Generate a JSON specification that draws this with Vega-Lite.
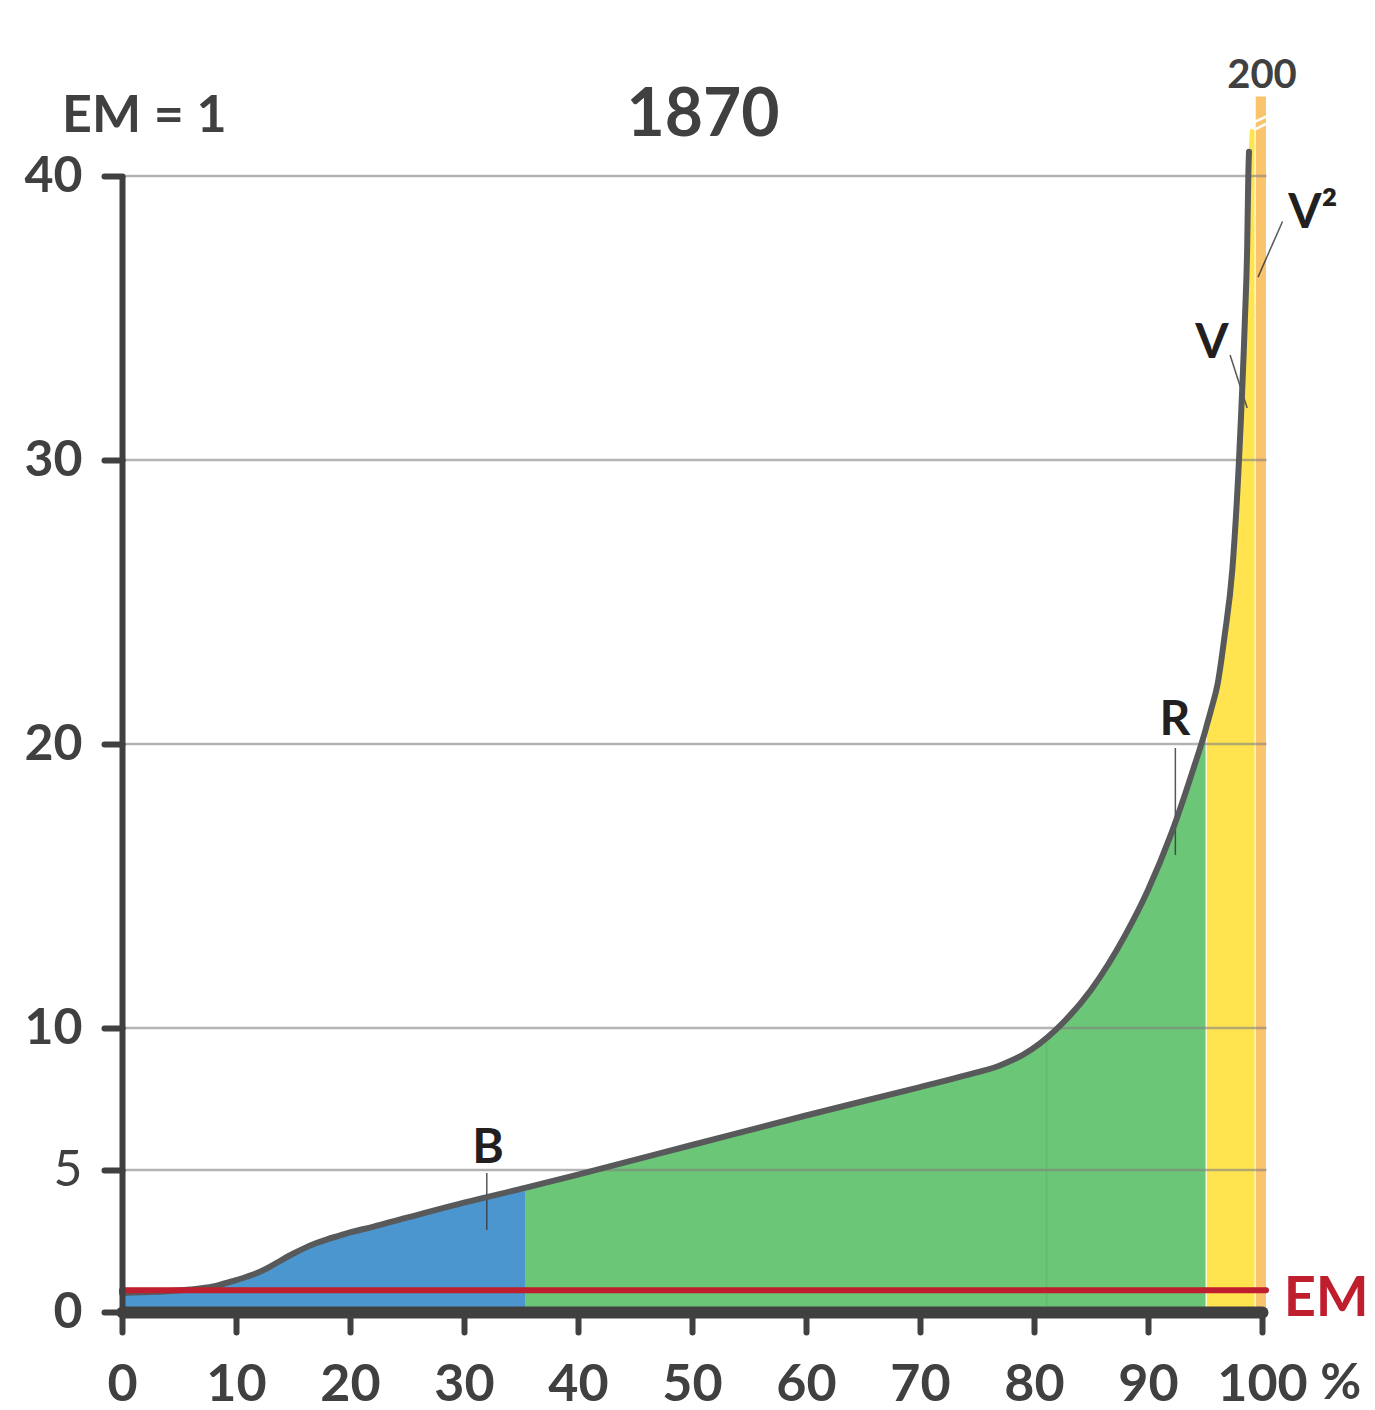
{
  "$schema": "https://vega.github.io/schema/vega-lite/v6.json",
  "width": 1140,
  "height": 1136,
  "autosize": {"type": "none"},
  "padding": {"left": 122, "top": 176, "right": 113, "bottom": 98},
  "background": "white",
  "config": {"view": {"stroke": null}, "font": "Lato"},
  "datasets": {
    "curve": [
      {"x": 0, "y": 0.67, "kind": "curve"},
      {"x": 3, "y": 0.71, "kind": "curve"},
      {"x": 6, "y": 0.79, "kind": "curve"},
      {"x": 8, "y": 0.9, "kind": "curve"},
      {"x": 9.7, "y": 1.09, "kind": "curve"},
      {"x": 11, "y": 1.25, "kind": "curve"},
      {"x": 12, "y": 1.4, "kind": "curve"},
      {"x": 13, "y": 1.6, "kind": "curve"},
      {"x": 14, "y": 1.83, "kind": "curve"},
      {"x": 15, "y": 2.05, "kind": "curve"},
      {"x": 16, "y": 2.25, "kind": "curve"},
      {"x": 17, "y": 2.42, "kind": "curve"},
      {"x": 18, "y": 2.56, "kind": "curve"},
      {"x": 19, "y": 2.68, "kind": "curve"},
      {"x": 20, "y": 2.8, "kind": "curve"},
      {"x": 22, "y": 3.0, "kind": "curve"},
      {"x": 25, "y": 3.32, "kind": "curve"},
      {"x": 30, "y": 3.85, "kind": "curve"},
      {"x": 35.35, "y": 4.37, "kind": "curve"},
      {"x": 40, "y": 4.84, "kind": "curve"},
      {"x": 50, "y": 5.88, "kind": "curve"},
      {"x": 60, "y": 6.92, "kind": "curve"},
      {"x": 70, "y": 7.92, "kind": "curve"},
      {"x": 74, "y": 8.33, "kind": "curve"},
      {"x": 77, "y": 8.68, "kind": "curve"},
      {"x": 79, "y": 9.05, "kind": "curve"},
      {"x": 80.5, "y": 9.45, "kind": "curve"},
      {"x": 82, "y": 9.97, "kind": "curve"},
      {"x": 85, "y": 11.34, "kind": "curve"},
      {"x": 88, "y": 13.27, "kind": "curve"},
      {"x": 90, "y": 14.86, "kind": "curve"},
      {"x": 92, "y": 16.8, "kind": "curve"},
      {"x": 94, "y": 19.15, "kind": "curve"},
      {"x": 95.05, "y": 20.5, "kind": "curve"},
      {"x": 95.15, "y": 20.65, "kind": "curve"},
      {"x": 95.6, "y": 21.3, "kind": "curve"},
      {"x": 96.1, "y": 22.1, "kind": "curve"},
      {"x": 96.7, "y": 23.75, "kind": "curve"},
      {"x": 97.4, "y": 26.15, "kind": "curve"},
      {"x": 98.0, "y": 30.15, "kind": "curve"},
      {"x": 98.5, "y": 34.95, "kind": "curve"},
      {"x": 98.7, "y": 37.5, "kind": "curve"},
      {"x": 98.8, "y": 40.05, "kind": "curve"},
      {"x": 98.86, "y": 40.85, "kind": "curve"},
      {"x": 98.95, "y": 41.65, "kind": "top"},
      {"x": 99.35, "y": 41.65, "kind": "top"}
    ],
    "grid": [{"y": 5}, {"y": 10}, {"y": 20}, {"y": 30}, {"y": 40}],
    "leaders": [
      {"name": "B", "x": 32.0, "y": 4.89, "x2": 32.0, "y2": 2.89},
      {"name": "R", "x": 92.4, "y": 19.86, "x2": 92.4, "y2": 16.09},
      {"name": "V", "x": 97.2, "y": 33.7, "x2": 98.7, "y2": 31.83},
      {"name": "V2", "x": 101.8, "y": 38.4, "x2": 99.65, "y2": 36.44}
    ],
    "letters": [
      {"text": "B", "x": 32.1, "y": 5.25},
      {"text": "R", "x": 92.37, "y": 20.3},
      {"text": "V", "x": 95.6, "y": 33.6}
    ]
  },
  "layer": [
    {
      "data": {"name": "curve"},
      "transform": [{"filter": "datum.kind == 'curve' && datum.x <= 35.35"}],
      "mark": {"type": "area", "color": "#4b96ce", "interpolate": "monotone"},
      "encoding": {
        "x": {
          "field": "x", "type": "quantitative", "title": null,
          "scale": {"domain": [0, 100], "nice": false, "zero": false},
          "axis": {
            "values": [0, 10, 20, 30, 40, 50, 60, 70, 80, 90, 100],
            "title": null, "grid": false,
            "domainColor": "#404040", "domainWidth": 12, "domainCap": "round",
            "tickColor": "#404040", "tickWidth": 6, "tickSize": 20, "tickCap": "round",
            "labelFont": "Lato", "labelFontSize": 52, "labelFontWeight": "bold",
            "labelColor": "#404040", "labelPadding": 27,
            "labelFlush": false, "labelOverlap": false, "zindex": 1
          }
        },
        "y": {
          "field": "y", "type": "quantitative", "title": null,
          "scale": {"domain": [0, 40], "nice": false, "zero": false},
          "axis": {
            "values": [0, 5, 10, 20, 30, 40],
            "title": null, "grid": false,
            "domainColor": "#404040", "domainWidth": 6,
            "tickColor": "#404040", "tickWidth": 6, "tickSize": 18, "tickCap": "round",
            "labelFont": "Lato", "labelFontSize": 50,
            "labelFontWeight": {"condition": {"test": "datum.value == 5", "value": "normal"}, "value": "bold"},
            "labelColor": "#404040", "labelPadding": 22,
            "labelFlush": false, "labelOverlap": false, "zindex": 1
          }
        }
      }
    },
    {
      "data": {"name": "curve"},
      "transform": [{"filter": "datum.kind == 'curve' && datum.x >= 35.35 && datum.x <= 95.05"}],
      "mark": {"type": "area", "color": "#6cc677", "interpolate": "monotone"},
      "encoding": {
        "x": {"field": "x", "type": "quantitative", "title": null},
        "y": {"field": "y", "type": "quantitative", "title": null}
      }
    },
    {
      "data": {"name": "curve"},
      "transform": [{"filter": "datum.x >= 95.15"}],
      "mark": {"type": "area", "color": "#ffe450", "interpolate": "monotone"},
      "encoding": {
        "x": {"field": "x", "type": "quantitative", "title": null},
        "y": {"field": "y", "type": "quantitative", "title": null}
      }
    },
    {
      "data": {"values": [{"x": 99.45, "x2": 100.35, "y": 0, "y2": 42.8}]},
      "mark": {"type": "rect", "color": "#fac46c"},
      "encoding": {
        "x": {"field": "x", "type": "quantitative", "title": null},
        "x2": {"field": "x2"},
        "y": {"field": "y", "type": "quantitative", "title": null},
        "y2": {"field": "y2"}
      }
    },
    {
      "data": {"values": [
        {"x": 99.3, "y": 41.62, "x2": 100.5, "y2": 41.86},
        {"x": 99.3, "y": 41.9, "x2": 100.5, "y2": 42.12}
      ]},
      "mark": {"type": "rule", "color": "white", "strokeWidth": 2.5},
      "encoding": {
        "x": {"field": "x", "type": "quantitative", "title": null},
        "x2": {"field": "x2"},
        "y": {"field": "y", "type": "quantitative", "title": null},
        "y2": {"field": "y2"}
      }
    },
    {
      "data": {"values": [{"x": 81.1, "y": 0, "y2": 9.65}]},
      "mark": {"type": "rule", "color": "#5bb568", "strokeWidth": 1.5, "opacity": 0.6},
      "encoding": {
        "x": {"field": "x", "type": "quantitative", "title": null},
        "y": {"field": "y", "type": "quantitative", "title": null},
        "y2": {"field": "y2"}
      }
    },
    {
      "data": {"name": "grid"},
      "mark": {"type": "rule", "color": "#808080", "strokeWidth": 2.5, "opacity": 0.6},
      "encoding": {
        "x": {"datum": 0, "type": "quantitative", "title": null},
        "x2": {"datum": 100.4},
        "y": {"field": "y", "type": "quantitative", "title": null}
      }
    },
    {
      "data": {"name": "leaders"},
      "mark": {"type": "rule", "color": "#3a3a3a", "strokeWidth": 1.5, "opacity": 0.85},
      "encoding": {
        "x": {"field": "x", "type": "quantitative", "title": null},
        "x2": {"field": "x2"},
        "y": {"field": "y", "type": "quantitative", "title": null},
        "y2": {"field": "y2"}
      }
    },
    {
      "data": {"name": "curve"},
      "transform": [{"filter": "datum.kind == 'curve'"}],
      "mark": {"type": "line", "color": "#58595b", "strokeWidth": 6, "interpolate": "monotone", "strokeCap": "round", "strokeJoin": "round"},
      "encoding": {
        "x": {"field": "x", "type": "quantitative", "title": null},
        "y": {"field": "y", "type": "quantitative", "title": null}
      }
    },
    {
      "data": {"values": [{"x": 0, "x2": 100.35, "y": 0.77}]},
      "mark": {"type": "rule", "color": "#be1e2d", "strokeWidth": 6, "strokeCap": "round"},
      "encoding": {
        "x": {"field": "x", "type": "quantitative", "title": null},
        "x2": {"field": "x2"},
        "y": {"field": "y", "type": "quantitative", "title": null}
      }
    },
    {
      "data": {"name": "letters"},
      "mark": {"type": "text", "font": "Lato", "fontSize": 48, "fontWeight": "bold", "color": "#231f20", "baseline": "alphabetic", "align": "center"},
      "encoding": {
        "x": {"field": "x", "type": "quantitative", "title": null},
        "y": {"field": "y", "type": "quantitative", "title": null},
        "text": {"field": "text"}
      }
    },
    {
      "data": {"values": [{"text": "V²", "x": 102.3, "y": 38.17}]},
      "mark": {"type": "text", "font": "Lato", "fontSize": 48, "fontWeight": "bold", "color": "#231f20", "baseline": "alphabetic", "align": "left"},
      "encoding": {
        "x": {"field": "x", "type": "quantitative", "title": null},
        "y": {"field": "y", "type": "quantitative", "title": null},
        "text": {"field": "text"}
      }
    },
    {
      "data": {"values": [{"text": "EM", "x": 101.9, "y": -0.14}]},
      "mark": {"type": "text", "font": "Lato", "fontSize": 56, "fontWeight": "bold", "color": "#be1e2d", "baseline": "alphabetic", "align": "left"},
      "encoding": {
        "x": {"field": "x", "type": "quantitative", "title": null},
        "y": {"field": "y", "type": "quantitative", "title": null},
        "text": {"field": "text"}
      }
    },
    {
      "data": {"values": [{"text": "%", "x": 105.1, "y": -3.05}]},
      "mark": {"type": "text", "font": "Lato", "fontSize": 50, "fontWeight": "bold", "color": "#404040", "baseline": "alphabetic", "align": "left"},
      "encoding": {
        "x": {"field": "x", "type": "quantitative", "title": null},
        "y": {"field": "y", "type": "quantitative", "title": null},
        "text": {"field": "text"}
      }
    },
    {
      "data": {"values": [{"text": "200", "x": 100.0, "y": 43.1}]},
      "mark": {"type": "text", "font": "Lato", "fontSize": 40, "fontWeight": "bold", "color": "#404040", "baseline": "alphabetic", "align": "center"},
      "encoding": {
        "x": {"field": "x", "type": "quantitative", "title": null},
        "y": {"field": "y", "type": "quantitative", "title": null},
        "text": {"field": "text"}
      }
    },
    {
      "data": {"values": [{"text": "1870", "x": 50.96, "y": 41.4}]},
      "mark": {"type": "text", "font": "Lato", "fontSize": 66, "fontWeight": "bold", "color": "#404040", "baseline": "alphabetic", "align": "center"},
      "encoding": {
        "x": {"field": "x", "type": "quantitative", "title": null},
        "y": {"field": "y", "type": "quantitative", "title": null},
        "text": {"field": "text"}
      }
    },
    {
      "data": {"values": [{"text": "EM = 1", "x": -5.26, "y": 41.55}]},
      "mark": {"type": "text", "font": "Lato", "fontSize": 52, "fontWeight": "bold", "color": "#404040", "baseline": "alphabetic", "align": "left"},
      "encoding": {
        "x": {"field": "x", "type": "quantitative", "title": null},
        "y": {"field": "y", "type": "quantitative", "title": null},
        "text": {"field": "text"}
      }
    }
  ]
}
